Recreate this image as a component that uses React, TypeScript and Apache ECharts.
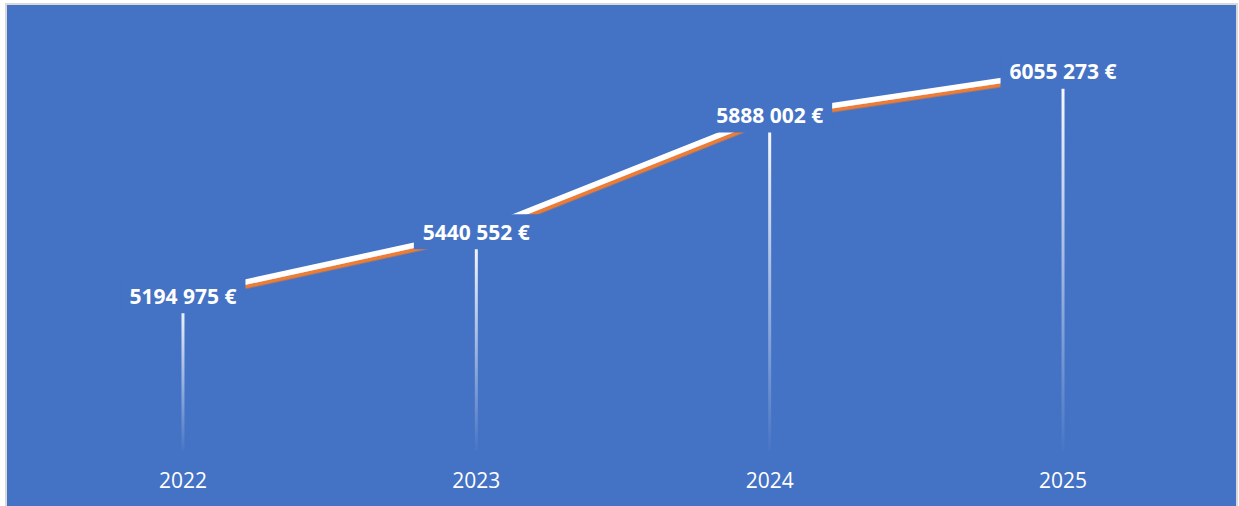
import React, { useEffect, useRef } from "react";
import * as echarts from "echarts";

const years = ["2022", "2023", "2024", "2025"];
const values = [5194975, 5440552, 5888002, 6055273];

const BLUE = "#4472C4";
const ORANGE = "#ED7D31";

function fmt(v: number): string {
  const hi = Math.floor(v / 1000);
  const lo = String(v % 1000).padStart(3, "0");
  return hi + " " + lo + " €";
}

export default function App() {
  const ref = useRef<HTMLDivElement>(null);
  useEffect(() => {
    if (!ref.current) return;
    const chart = echarts.init(ref.current, undefined, { renderer: "svg" });
    chart.setOption({
      animation: false,
      backgroundColor: "transparent",
      grid: { left: 36.3, right: 29.3, top: 33.5, bottom: 55 },
      xAxis: {
        type: "category",
        data: years,
        boundaryGap: true,
        axisLine: { show: false },
        axisTick: { show: false },
        axisLabel: {
          color: "#ffffff",
          fontFamily: "Open Sans",
          fontSize: 21,
          margin: 18,
        },
      },
      yAxis: {
        type: "value",
        min: 4600000,
        max: 6200000,
        show: false,
        splitLine: { show: false },
      },
      series: [
        {
          type: "bar",
          data: values,
          barWidth: 3,
          itemStyle: {
            color: new echarts.graphic.LinearGradient(0, 0, 0, 1, [
              { offset: 0, color: "rgba(255,255,255,1)" },
              { offset: 1, color: "rgba(255,255,255,0.02)" },
            ]),
          },
          z: 1,
        },
        {
          type: "line",
          data: values,
          symbol: "circle",
          symbolSize: 1,
          itemStyle: { color: "rgba(0,0,0,0)" },
          lineStyle: {
            color: "#ffffff",
            width: 5.5,
            shadowColor: ORANGE,
            shadowBlur: 0,
            shadowOffsetX: 2,
            shadowOffsetY: 3.5,
          },
          label: {
            show: true,
            position: "inside",
            formatter: (p: any) => fmt(p.value),
            color: "#ffffff",
            fontFamily: "Open Sans",
            fontWeight: "bold",
            fontSize: 21,
            lineHeight: 25,
            backgroundColor: BLUE,
            padding: [5, 9],
          },
          z: 3,
        },
      ],
    });
    return () => chart.dispose();
  }, []);
  return (
    <div
      style={{
        position: "fixed",
        left: 0,
        top: 0,
        width: 1239,
        height: 506,
        background: "#ffffff",
        overflow: "hidden",
      }}
    >
      <div
        style={{
          position: "absolute",
          left: 5,
          top: 3,
          width: 1233,
          height: 530,
          boxSizing: "border-box",
          border: "2px solid #D9D9D9",
          background: BLUE,
        }}
      />
      <div
        ref={ref}
        style={{ position: "absolute", left: 0, top: 0, width: 1239, height: 506 }}
      />
    </div>
  );
}
